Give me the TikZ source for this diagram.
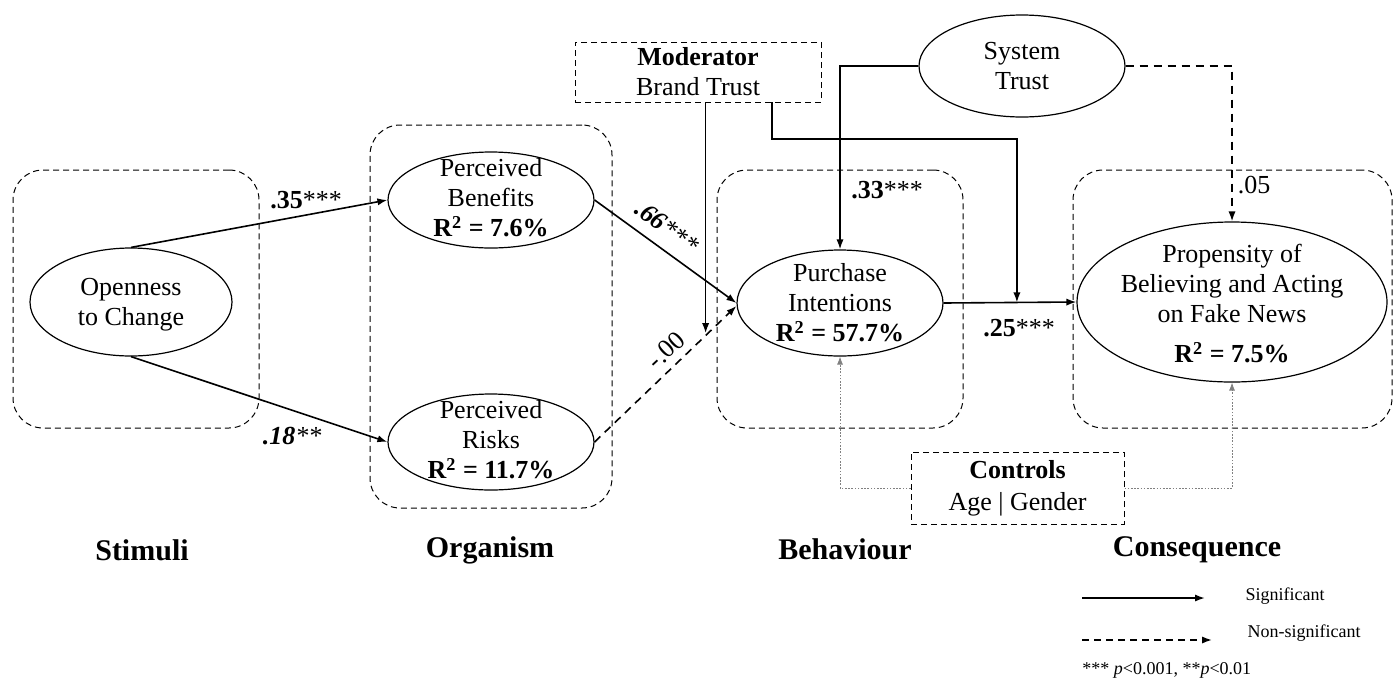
\documentclass[tikz,border=0pt]{standalone}
\usepackage{fontspec}
\setmainfont{Liberation Serif}
\usetikzlibrary{shapes.geometric,arrows.meta,calc}
\begin{document}
\begin{tikzpicture}[x=0.5pt,y=-0.5pt,
  every node/.style={font=\fontsize{13}{15}\selectfont},
  group/.style={draw, dash pattern=on 3pt off 2pt, line width=0.5pt, rounded corners=15pt, inner sep=0pt},
  dbox/.style={draw, dash pattern=on 3pt off 2pt, line width=0.5pt, inner sep=0pt, align=center},
  ell/.style={draw, ellipse, line width=0.6pt, inner sep=0pt},
  etext/.style={align=center, inner sep=0pt},
  arr/.style={line width=0.8pt, -{Latex[length=5pt,width=3.6pt]}},
  darr/.style={arr, dash pattern=on 4pt off 3pt},
  carr/.style={line width=0.4pt, gray, dash pattern=on 0.8pt off 0.8pt, -{Latex[length=4pt,width=3pt]}},
  lbl/.style={inner sep=0pt},
  ttl/.style={font=\fontsize{15}{17}\selectfont\bfseries},
  lgd/.style={font=\fontsize{9}{11}\selectfont, inner sep=0pt}
]
\useasboundingbox (0,0) rectangle (1400,686);

% group boxes
\node[group, minimum width=123pt, minimum height=129pt] (gS) at (136,299) {};
\node[group, minimum width=121pt, minimum height=191.5pt] (gO) at (491,316.5) {};
\node[group, minimum width=123pt, minimum height=129pt] (gB) at (840,299) {};
\node[group, minimum width=159.5pt, minimum height=129pt] (gC) at (1232.5,299) {};

% ellipses
\node[ell, minimum width=101pt, minimum height=54pt] (open) at (131,302) {};
\node[etext] (openT) at (131,305) {Openness\\to Change};
\node[ell, minimum width=103pt, minimum height=48pt] (ben) at (491,200) {};
\node[etext] (benT) at (491,198) {Perceived\\Benefits\\\textbf{R\textsuperscript{2} = 7.6\%}};
\node[ell, minimum width=103pt, minimum height=48pt] (risk) at (491,442) {};
\node[etext] (riskT) at (491,440) {Perceived\\Risks\\\textbf{R\textsuperscript{2} = 11.7\%}};
\node[ell, minimum width=103pt, minimum height=53pt] (pur) at (840,303) {};
\node[etext] (purT) at (840,303) {Purchase\\Intentions\\\textbf{R\textsuperscript{2} = 57.7\%}};
\node[ell, minimum width=155pt, minimum height=80pt] (prop) at (1232,302) {};
\node[etext] (propT) at (1232,304) {Propensity of\\Believing and Acting\\on Fake News\\[5pt]\textbf{R\textsuperscript{2} = 7.5\%}};
\node[ell, minimum width=103pt, minimum height=51pt] (sys) at (1022,66) {};
\node[etext] (sysT) at (1022,66) {System\\Trust};

% boxes
\node[dbox, minimum width=123pt, minimum height=30pt] (mod) at (698,72) {\textbf{Moderator}\\Brand Trust};
\node[dbox, minimum width=106.5pt, minimum height=36pt, font=\fontsize{13}{16}\selectfont] (ctrl) at (1017.5,488) {\textbf{Controls}\\Age | Gender};

% connectors
\draw[arr] (open.north) -- (ben.west);
\draw[arr] (open.south) -- (risk.west);
\draw[arr] (ben.east) -- (pur.west);
\draw[darr] (risk.east) -- ($(pur.west)+(0,3)$);
\coordinate (modtip) at ($(risk.east)!0.783!(pur.west)$);
\draw[arr] (mod.south -| modtip) -- (modtip);
\draw[arr] (pur.east) -- (prop.west);
\coordinate (modtip2) at ($(pur.east)!0.552!(prop.west)$);
\coordinate (modA) at (772,102);
\coordinate (modB) at (772,139);
\draw[arr] (modA) -- (modB) -| (modtip2);
\draw[arr] (sys.west) -| (pur.north);
\draw[darr] (sys.east) -| (prop.north);
\draw[carr] (ctrl.west) -| (pur.south);
\draw[carr] (ctrl.east) -| (prop.south);

% path labels
\node[lbl] (l35) at (306,200) {\textbf{.35}***};
\node[lbl] (l18) at (292,436) {\textit{\textbf{.18}**}};
\node[lbl, rotate=-37] (l66) at (667,227) {\textit{\textbf{.66}***}};
\node[lbl, rotate=43] (l00) at (666,350) {-.00};
\node[lbl] (l33) at (887,190) {\textbf{.33}***};
\node[lbl] (l25) at (1019,328) {\textbf{.25}***};
\node[lbl] (l05) at (1254,185) {.05};

% titles
\node[ttl] (tS) at (142,550) {Stimuli};
\node[ttl] (tO) at (490,550) {Organism};
\node[ttl] (tB) at (845,549) {Behaviour};
\node[ttl] (tC) at (1197,550) {Consequence};

% legend
\coordinate (ls1) at (1082,598);
\coordinate (ls2) at (1205,598);
\draw[arr, line width=0.9pt] (ls1) -- (ls2);
\node[lgd] (lsT) at (1285,596) {Significant};
\coordinate (ln1) at (1082,640);
\coordinate (ln2) at (1212,640);
\draw[darr, dash pattern=on 3.5pt off 2.5pt] (ln1) -- (ln2);
\node[lgd] (lnT) at (1304,633) {Non-significant};
\node[lgd, anchor=west] (fn) at (1082,670) {*** \textit{p}<0.001, **\textit{p}<0.01};
\end{tikzpicture}
\end{document}
